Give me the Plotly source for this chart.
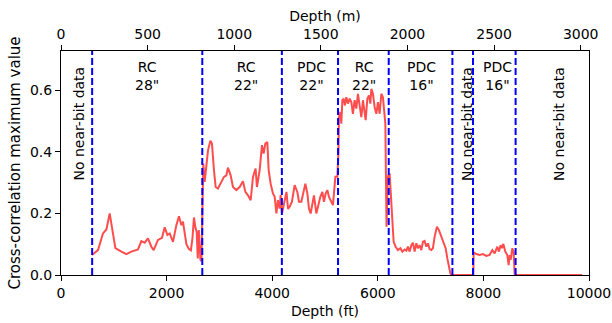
import plotly.graph_objects as go

# ---- data ----
depth_ft = [587, 701, 795, 860, 922, 985, 1030, 1144, 1238, 1333, 1458, 1522, 1585, 1647, 1712,
            1755, 1837, 1913, 1964, 2015, 2058, 2121, 2185, 2234, 2280, 2310, 2340, 2375, 2420,
            2460, 2490, 2518, 2545, 2570, 2590, 2610, 2625, 2640, 2660, 2670, 2685, 2695, 2721,
            2753, 2784, 2829, 2859, 2897, 2929, 2973, 3037, 3087, 3132, 3162, 3213, 3257, 3321,
            3384, 3446, 3492, 3541, 3592, 3636, 3685, 3711, 3763, 3806, 3838, 3870, 3908, 3933,
            3970, 4014, 4047, 4079, 4109, 4141, 4160, 4185, 4204, 4236, 4270, 4300, 4331, 4374,
            4425, 4476, 4507, 4552, 4583, 4628, 4666, 4696, 4728, 4760, 4791, 4836, 4866, 4912,
            4950, 4980, 5012, 5044, 5075, 5120, 5151, 5196, 5234, 5255, 5264, 5291, 5309, 5329,
            5353, 5378, 5404, 5435, 5467, 5499, 5529, 5561, 5593, 5624, 5656, 5688, 5719, 5751,
            5770, 5802, 5832, 5859, 5878, 5908, 5940, 5972, 6003, 6035, 6067, 6097, 6116, 6143,
            6165, 6190, 6224, 6243, 6262, 6300, 6338, 6381, 6427, 6465, 6508, 6541, 6571, 6603,
            6635, 6665, 6698, 6730, 6760, 6792, 6824, 6855, 6887, 6919, 6949, 6981, 7014, 7044,
            7076, 7120, 7158, 7203, 7247, 7285, 7317, 7347, 7374, 7393, 7810, 7815, 7866, 7929,
            7992, 8055, 8118, 8169, 8213, 8264, 8294, 8326, 8351, 8377, 8415, 8453, 8478, 8497,
            8516, 8548, 8572, 8591, 8600, 9870]
xcorr_max = [0.065, 0.081, 0.135, 0.148, 0.200, 0.124, 0.087, 0.076, 0.068, 0.076, 0.083, 0.110,
             0.105, 0.119, 0.092, 0.081, 0.114, 0.121, 0.155, 0.130, 0.135, 0.108, 0.162, 0.191,
             0.162, 0.173, 0.135, 0.100, 0.085, 0.080, 0.120, 0.187, 0.155, 0.140, 0.054, 0.146,
             0.100, 0.050, 0.045, 0.146, 0.300, 0.362, 0.303, 0.362, 0.405, 0.436, 0.427, 0.341,
             0.286, 0.281, 0.303, 0.319, 0.324, 0.349, 0.324, 0.286, 0.276, 0.286, 0.305, 0.270,
             0.259, 0.243, 0.319, 0.346, 0.286, 0.341, 0.422, 0.395, 0.427, 0.432, 0.341, 0.297,
             0.265, 0.254, 0.200, 0.243, 0.216, 0.260, 0.200, 0.216, 0.233, 0.270, 0.215, 0.222,
             0.238, 0.292, 0.270, 0.238, 0.238, 0.265, 0.297, 0.265, 0.216, 0.200, 0.233, 0.259,
             0.200, 0.222, 0.254, 0.270, 0.238, 0.265, 0.276, 0.254, 0.238, 0.227, 0.319, 0.319,
             0.400, 0.513, 0.530, 0.492, 0.568, 0.573, 0.551, 0.578, 0.557, 0.573, 0.562, 0.524,
             0.568, 0.541, 0.589, 0.557, 0.513, 0.568, 0.535, 0.503, 0.573, 0.584, 0.557, 0.605,
             0.589, 0.546, 0.524, 0.562, 0.524, 0.589, 0.578, 0.546, 0.492, 0.157, 0.320, 0.330,
             0.276, 0.189, 0.108, 0.092, 0.081, 0.087, 0.076, 0.083, 0.079, 0.092, 0.076, 0.097,
             0.105, 0.076, 0.103, 0.087, 0.097, 0.081, 0.108, 0.111, 0.092, 0.103, 0.084, 0.081,
             0.087, 0.124, 0.157, 0.146, 0.124, 0.108, 0.087, 0.054, 0.022, 0.005, 0.0, 0.0,
             0.074, 0.068, 0.065, 0.068, 0.062, 0.065, 0.081, 0.070, 0.092, 0.076, 0.097, 0.087,
             0.101, 0.076, 0.065, 0.032, 0.065, 0.049, 0.087, 0.076, 0.005, 0.0, 0.0]

boundaries_ft = [590, 2676, 4183, 5247, 6207, 7413, 7803, 8610]

section_labels = ['RC<br>28"', 'RC<br>22"', 'PDC<br>22"', 'RC<br>22"', 'PDC<br>16"', 'PDC<br>16"']
section_x_ft = [1636, 3500, 4740, 5740, 6830, 8270]
nodata_x_ft = [335, 7690, 9434]
nodata_label = "No near-bit data"

x_ticks_ft = [0, 2000, 4000, 6000, 8000, 10000]
x_ticks_m = [0, 500, 1000, 1500, 2000, 2500, 3000]
y_ticks = [0.0, 0.2, 0.4, 0.6]
FT_TO_M = 0.3048
x_max_ft = 10000
y_max = 0.728

FONT = "DejaVu Sans"
FS = 14

fig = go.Figure()
fig.add_trace(go.Scatter(x=depth_ft, y=xcorr_max, mode="lines",
                         line=dict(color="rgba(255,0,0,0.7)", width=2),
                         hoverinfo="skip", showlegend=False))
# invisible trace for the top (metres) axis
fig.add_trace(go.Scatter(x=[0, x_max_ft * FT_TO_M], y=[0, 0], mode="markers",
                         marker=dict(opacity=0), xaxis="x2", yaxis="y",
                         hoverinfo="skip", showlegend=False))

for b in boundaries_ft:
    fig.add_shape(type="line", xref="x", yref="y", x0=b, x1=b, y0=0, y1=y_max,
                  line=dict(color="blue", width=2, dash="7px,3px"), layer="above")

for lab, xs in zip(section_labels, section_x_ft):
    fig.add_annotation(x=xs, y=0.708, xref="x", yref="y", text=lab, showarrow=False,
                       xanchor="center", yanchor="top", align="center",
                       font=dict(family=FONT, size=FS, color="black"))
for xs in nodata_x_ft:
    fig.add_annotation(x=xs, y=0.683, xref="x", yref="y", text=nodata_label, showarrow=False,
                       textangle=-90, xanchor="center", yanchor="top",
                       font=dict(family=FONT, size=FS, color="black"))

axis_common = dict(showline=True, linecolor="black", linewidth=1, ticks="outside",
                   ticklen=5, tickwidth=1, tickcolor="black", showgrid=False, zeroline=False,
                   tickfont=dict(family=FONT, size=FS, color="black"))

fig.update_layout(
    width=612, height=323,
    margin=dict(l=61, r=23, t=51, b=48, autoexpand=False),
    paper_bgcolor="white", plot_bgcolor="white",
    xaxis=dict(range=[0, x_max_ft], tickvals=x_ticks_ft, ticktext=[str(v) for v in x_ticks_ft],
               title=dict(text="Depth (ft)", font=dict(family=FONT, size=FS, color="black"), standoff=6),
               mirror=False, **axis_common),
    xaxis2=dict(range=[0, x_max_ft * FT_TO_M], tickvals=x_ticks_m, ticktext=[str(v) for v in x_ticks_m],
                overlaying="x", side="top", anchor="y",
                title=dict(text="Depth (m)", font=dict(family=FONT, size=FS, color="black"), standoff=1),
                **axis_common),
    yaxis=dict(range=[0, y_max], tickvals=y_ticks, ticktext=[f"{v:.1f}" for v in y_ticks],
               title=dict(text="Cross-correlation maximum value", font=dict(family=FONT, size=15, color="black"), standoff=5),
               mirror=True, **axis_common),
)

fig.write_html("out.html")
